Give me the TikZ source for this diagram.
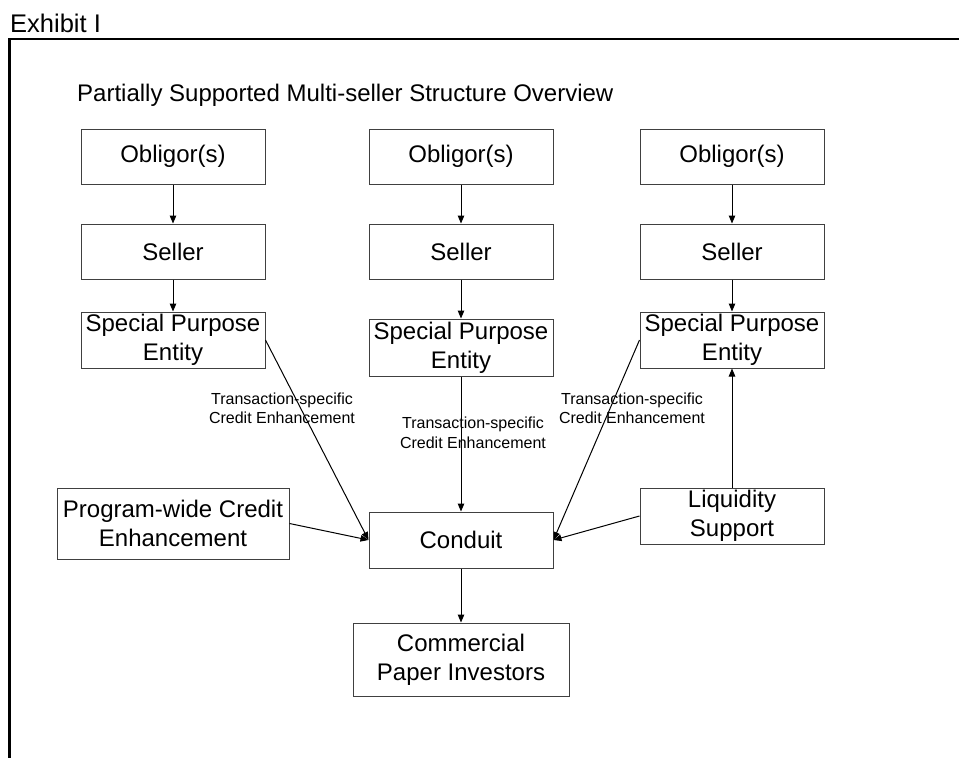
\documentclass[tikz,border=0pt]{standalone}
\usepackage{fontspec}
\setmainfont{Liberation Sans}
\usetikzlibrary{arrows.meta}
\begin{document}
\begin{tikzpicture}[x=1pt,y=-1pt,
 box/.style={draw=black!75, line width=1pt, minimum width=184pt, minimum height=55pt, inner sep=0pt, align=center, font=\fontsize{24}{29}\selectfont},
 lbl/.style={align=center, inner sep=0pt, font=\fontsize{16}{19.5}\selectfont},
 arr/.style={-{Triangle[length=8pt,width=6.5pt]}, line width=1pt}]
\useasboundingbox (0,0) rectangle (959,758);
\draw[line width=2.5pt, line join=miter] (9.5,758) -- (9.5,39) -- (959,39);
\node[anchor=base west, inner sep=0pt, font=\fontsize{25.5}{30}\selectfont] (exh) at (10,32) {Exhibit I};
\node[anchor=base west, inner sep=0pt, font=\fontsize{24}{28}\selectfont] (title) at (77,101) {Partially Supported Multi-seller Structure Overview};
% columns
\node[box] (ob1) at (173,156.5) {Obligor(s)};
\node[box] (ob2) at (461,156.5) {Obligor(s)};
\node[box] (ob3) at (732,156.5) {Obligor(s)};
\node[box] (se1) at (173,251.5) {Seller};
\node[box] (se2) at (461,251.5) {Seller};
\node[box] (se3) at (732,251.5) {Seller};
\node[box, minimum height=56pt] (sp1) at (173,340) {Special Purpose\\Entity};
\node[box, minimum height=57pt] (sp2) at (461,347.5) {Special Purpose\\Entity};
\node[box, minimum height=56pt] (sp3) at (732,340) {Special Purpose\\Entity};
\node[box, minimum width=232pt, minimum height=71pt] (pw) at (173,523.5) {Program-wide Credit\\Enhancement};
\node[box, minimum height=56pt] (cd) at (461,540) {Conduit};
\node[box, minimum height=56pt] (lq) at (732,516) {Liquidity\\Support};
\node[box, minimum width=216pt, minimum height=73pt] (cp) at (461,659.5) {Commercial\\Paper Investors};
% labels
\node[lbl] (l1) at (282,408.5) {Transaction-specific\\Credit Enhancement};
\node[lbl] (l2) at (473,433) {Transaction-specific\\Credit Enhancement};
\node[lbl] (l3) at (632,408.5) {Transaction-specific\\Credit Enhancement};
% arrows
\draw[arr] (ob1) -- (se1);
\draw[arr] (ob2) -- (se2);
\draw[arr] (ob3) -- (se3);
\draw[arr] (se1) -- (sp1);
\draw[arr] (se2) -- (sp2);
\draw[arr] (se3) -- (sp3);
\draw[arr] (sp1.east) -- (cd.west);
\draw[arr] (pw.east) -- (cd.west);
\draw[arr] (sp2.south) -- (cd.north);
\draw[arr] (sp3.west) -- (cd.east);
\draw[arr] (lq.west) -- (cd.east);
\draw[arr] (lq.north) -- (sp3.south);
\draw[arr] (cd.south) -- (cp.north);
\end{tikzpicture}
\end{document}
